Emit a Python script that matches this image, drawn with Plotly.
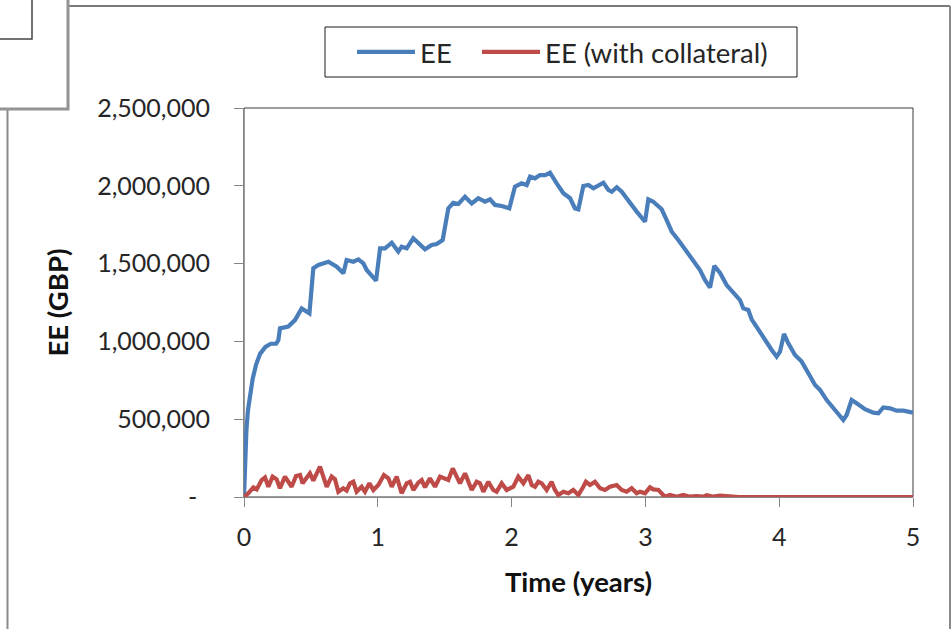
import plotly.graph_objects as go

# Expected exposure profile without collateral (GBP)
time_ee = [0.000, 0.008, 0.018, 0.030, 0.045, 0.065, 0.090, 0.120, 0.160, 0.200,
           0.240, 0.257, 0.269, 0.331, 0.381, 0.431, 0.489, 0.518, 0.556, 0.631,
           0.693, 0.743, 0.767, 0.817, 0.855, 0.892, 0.917, 0.987, 1.017, 1.054,
           1.104, 1.153, 1.178, 1.216, 1.265, 1.303, 1.353, 1.403, 1.440, 1.485,
           1.527, 1.564, 1.602, 1.652, 1.702, 1.751, 1.801, 1.839, 1.876, 1.926,
           1.983, 2.025, 2.075, 2.113, 2.138, 2.175, 2.212, 2.250, 2.287, 2.337,
           2.387, 2.437, 2.474, 2.499, 2.536, 2.574, 2.611, 2.686, 2.723, 2.748,
           2.786, 2.823, 2.885, 2.935, 2.997, 3.022, 3.059, 3.122, 3.159, 3.197,
           3.246, 3.309, 3.358, 3.408, 3.445, 3.483, 3.515, 3.558, 3.607, 3.657,
           3.707, 3.732, 3.769, 3.794, 3.844, 3.894, 3.944, 3.981, 4.006, 4.036,
           4.068, 4.118, 4.168, 4.218, 4.268, 4.305, 4.355, 4.417, 4.479, 4.504,
           4.541, 4.579, 4.641, 4.703, 4.741, 4.778, 4.828, 4.878, 4.928, 5.000]
ee = [0, 280000, 430000, 560000, 660000, 760000, 850000, 920000, 965000, 985000,
      985000, 1009000, 1084000, 1095000, 1137000, 1212000, 1180000, 1470000, 1491000, 1512000,
      1480000, 1438000, 1523000, 1512000, 1527000, 1502000, 1459000, 1390000, 1598000, 1598000,
      1634000, 1577000, 1609000, 1598000, 1663000, 1630000, 1592000, 1620000, 1626000, 1652000,
      1855000, 1891000, 1883000, 1930000, 1887000, 1920000, 1898000, 1913000, 1877000, 1870000,
      1855000, 1994000, 2016000, 2005000, 2059000, 2048000, 2069000, 2069000, 2084000, 2016000,
      1952000, 1920000, 1855000, 1849000, 1999000, 2005000, 1984000, 2020000, 1973000, 1962000,
      1991000, 1962000, 1887000, 1834000, 1769000, 1913000, 1898000, 1849000, 1780000, 1705000,
      1652000, 1577000, 1527000, 1459000, 1395000, 1345000, 1485000, 1440000, 1362000, 1309000,
      1266000, 1212000, 1202000, 1142000, 1073000, 1009000, 945000, 902000, 934000, 1048000,
      988000, 913000, 870000, 795000, 720000, 688000, 623000, 559000, 495000, 527000,
      623000, 602000, 564000, 542000, 538000, 576000, 570000, 555000, 555000, 542000]

# Expected exposure profile with collateral (GBP)
time_coll = [0.000, 0.032, 0.070, 0.095, 0.132, 0.157, 0.182, 0.214, 0.244, 0.269,
             0.306, 0.344, 0.356, 0.389, 0.419, 0.438, 0.473, 0.493, 0.518, 0.548,
             0.568, 0.593, 0.618, 0.655, 0.680, 0.705, 0.742, 0.767, 0.792, 0.817,
             0.842, 0.879, 0.904, 0.937, 0.967, 1.004, 1.046, 1.079, 1.104, 1.141,
             1.178, 1.216, 1.241, 1.266, 1.303, 1.328, 1.353, 1.390, 1.415, 1.428,
             1.465, 1.490, 1.527, 1.560, 1.589, 1.614, 1.652, 1.677, 1.702, 1.739,
             1.764, 1.789, 1.826, 1.863, 1.888, 1.926, 1.963, 2.013, 2.050, 2.088,
             2.125, 2.150, 2.175, 2.200, 2.225, 2.262, 2.299, 2.324, 2.349, 2.387,
             2.424, 2.461, 2.499, 2.536, 2.555, 2.586, 2.623, 2.661, 2.698, 2.735,
             2.785, 2.823, 2.860, 2.897, 2.935, 2.960, 2.997, 3.034, 3.059, 3.097,
             3.122, 3.146, 3.184, 3.234, 3.283, 3.333, 3.383, 3.433, 3.458, 3.508,
             3.557, 3.607, 3.645, 3.700, 5.000]
ee_coll = [0, 24000, 62000, 49000, 109000, 126000, 66000, 131000, 114000, 56000,
           131000, 77000, 66000, 135000, 141000, 88000, 135000, 152000, 105000, 163000,
           195000, 131000, 66000, 131000, 114000, 34000, 56000, 41000, 88000, 98000,
           34000, 66000, 34000, 88000, 45000, 77000, 141000, 120000, 66000, 131000,
           24000, 88000, 98000, 45000, 92000, 109000, 62000, 120000, 88000, 66000,
           131000, 120000, 109000, 184000, 131000, 88000, 152000, 98000, 45000, 98000,
           88000, 34000, 98000, 45000, 34000, 88000, 45000, 66000, 131000, 88000,
           141000, 77000, 66000, 98000, 88000, 45000, 98000, 45000, 13000, 34000,
           24000, 45000, 13000, 66000, 98000, 77000, 98000, 56000, 45000, 66000,
           77000, 45000, 34000, 56000, 24000, 34000, 24000, 62000, 49000, 45000,
           24000, 2000, 13000, 2000, 13000, 2000, 6000, 2000, 11000, 2000,
           9000, 6000, 2000, 0, 0]

x_ticks = [0, 1, 2, 3, 4, 5]
y_ticks = [0, 500000, 1000000, 1500000, 2000000, 2500000]
y_tick_text = ["-\u00a0\u00a0", "500,000", "1,000,000", "1,500,000", "2,000,000", "2,500,000"]

BLUE = "#4A7EBB"
RED = "#BE4B48"
AXIS_GREY = "#868686"
TEXT = "#262626"
FONT = "Lato"
TICK_SIZE = 25
LABEL_SIZE = 27.5

W, H = 952, 629
ML, MR, MT, MB = 244, 39, 108, 132
PW, PH = W - ML - MR, H - MT - MB


def px(x):
    """Pixel column -> paper x."""
    return (x - ML) / PW


def py(y):
    """Pixel row -> paper y."""
    return (H - MB - y) / PH


fig = go.Figure()
fig.add_trace(go.Scatter(x=time_ee, y=ee, mode="lines", name="EE", legend="legend",
                         line=dict(color=BLUE, width=4.2), cliponaxis=False))
fig.add_trace(go.Scatter(x=time_coll, y=ee_coll, mode="lines", name="EE (with collateral)",
                         legend="legend2",
                         line=dict(color=RED, width=4.2), cliponaxis=False))

axis_common = dict(
    showline=True, linecolor=AXIS_GREY, linewidth=1,
    ticks="outside", ticklen=9, tickcolor=AXIS_GREY, tickwidth=1,
    showgrid=False, zeroline=False, layer="below traces",
    tickfont=dict(family=FONT, size=TICK_SIZE, color=TEXT),
)

fig.update_xaxes(range=[0, 5], tickvals=x_ticks, ticktext=[str(v) for v in x_ticks],
                 ticklabelstandoff=9,
                 title=dict(text="<b>Time (years)</b>", standoff=22,
                            font=dict(family=FONT, size=LABEL_SIZE, color="#111111")),
                 **axis_common)
fig.update_yaxes(range=[0, 2500000], tickvals=y_ticks, ticktext=y_tick_text,
                 ticklabelstandoff=19,
                 title=dict(text="<b>EE (GBP)</b>", standoff=20,
                            font=dict(family=FONT, size=LABEL_SIZE, color="#111111")),
                 **axis_common)

shapes = [
    # plot-area frame
    dict(type="rect", xref="x domain", yref="y domain", x0=0, x1=1, y0=0, y1=1,
         line=dict(color="#3A3A3A", width=1), layer="below"),
    # shared frame around both legend entries
    dict(type="rect", xref="paper", yref="paper", x0=px(325), x1=px(797), y0=py(27), y1=py(77),
         line=dict(color="#1A1A1A", width=1)),
    # outer chart frame
    dict(type="line", xref="paper", yref="paper", x0=px(68), x1=px(950), y0=py(6), y1=py(6),
         line=dict(color="#7A7A7A", width=2)),
    dict(type="line", xref="paper", yref="paper", x0=px(950), x1=px(950), y0=py(6), y1=py(640),
         line=dict(color="#8A8A8A", width=2)),
    dict(type="line", xref="paper", yref="paper", x0=px(7.5), x1=px(7.5), y0=py(109), y1=py(640),
         line=dict(color="#8A8A8A", width=2)),
    # overlapping panel in the corner
    dict(type="rect", xref="paper", yref="paper", x0=px(-10), x1=px(68), y0=py(-10), y1=py(109),
         line=dict(color="#939393", width=3), fillcolor="white"),
    dict(type="rect", xref="paper", yref="paper", x0=px(-10), x1=px(32), y0=py(-10), y1=py(39),
         line=dict(color="#444444", width=1.5), fillcolor="white"),
]

legend_common = dict(orientation="h", xanchor="left", yanchor="middle", y=py(52),
                     borderwidth=0, bgcolor="rgba(0,0,0,0)",
                     font=dict(family=FONT, size=LABEL_SIZE, color=TEXT), itemwidth=58)

fig.update_layout(
    width=W, height=H,
    margin=dict(l=ML, r=MR, t=MT, b=MB, autoexpand=False),
    paper_bgcolor="white", plot_bgcolor="white",
    font=dict(family=FONT, size=TICK_SIZE, color=TEXT),
    shapes=shapes,
    showlegend=True,
    legend=dict(x=px(352), **legend_common),
    legend2=dict(x=px(477), **legend_common),
)

fig.write_html("out.html")
